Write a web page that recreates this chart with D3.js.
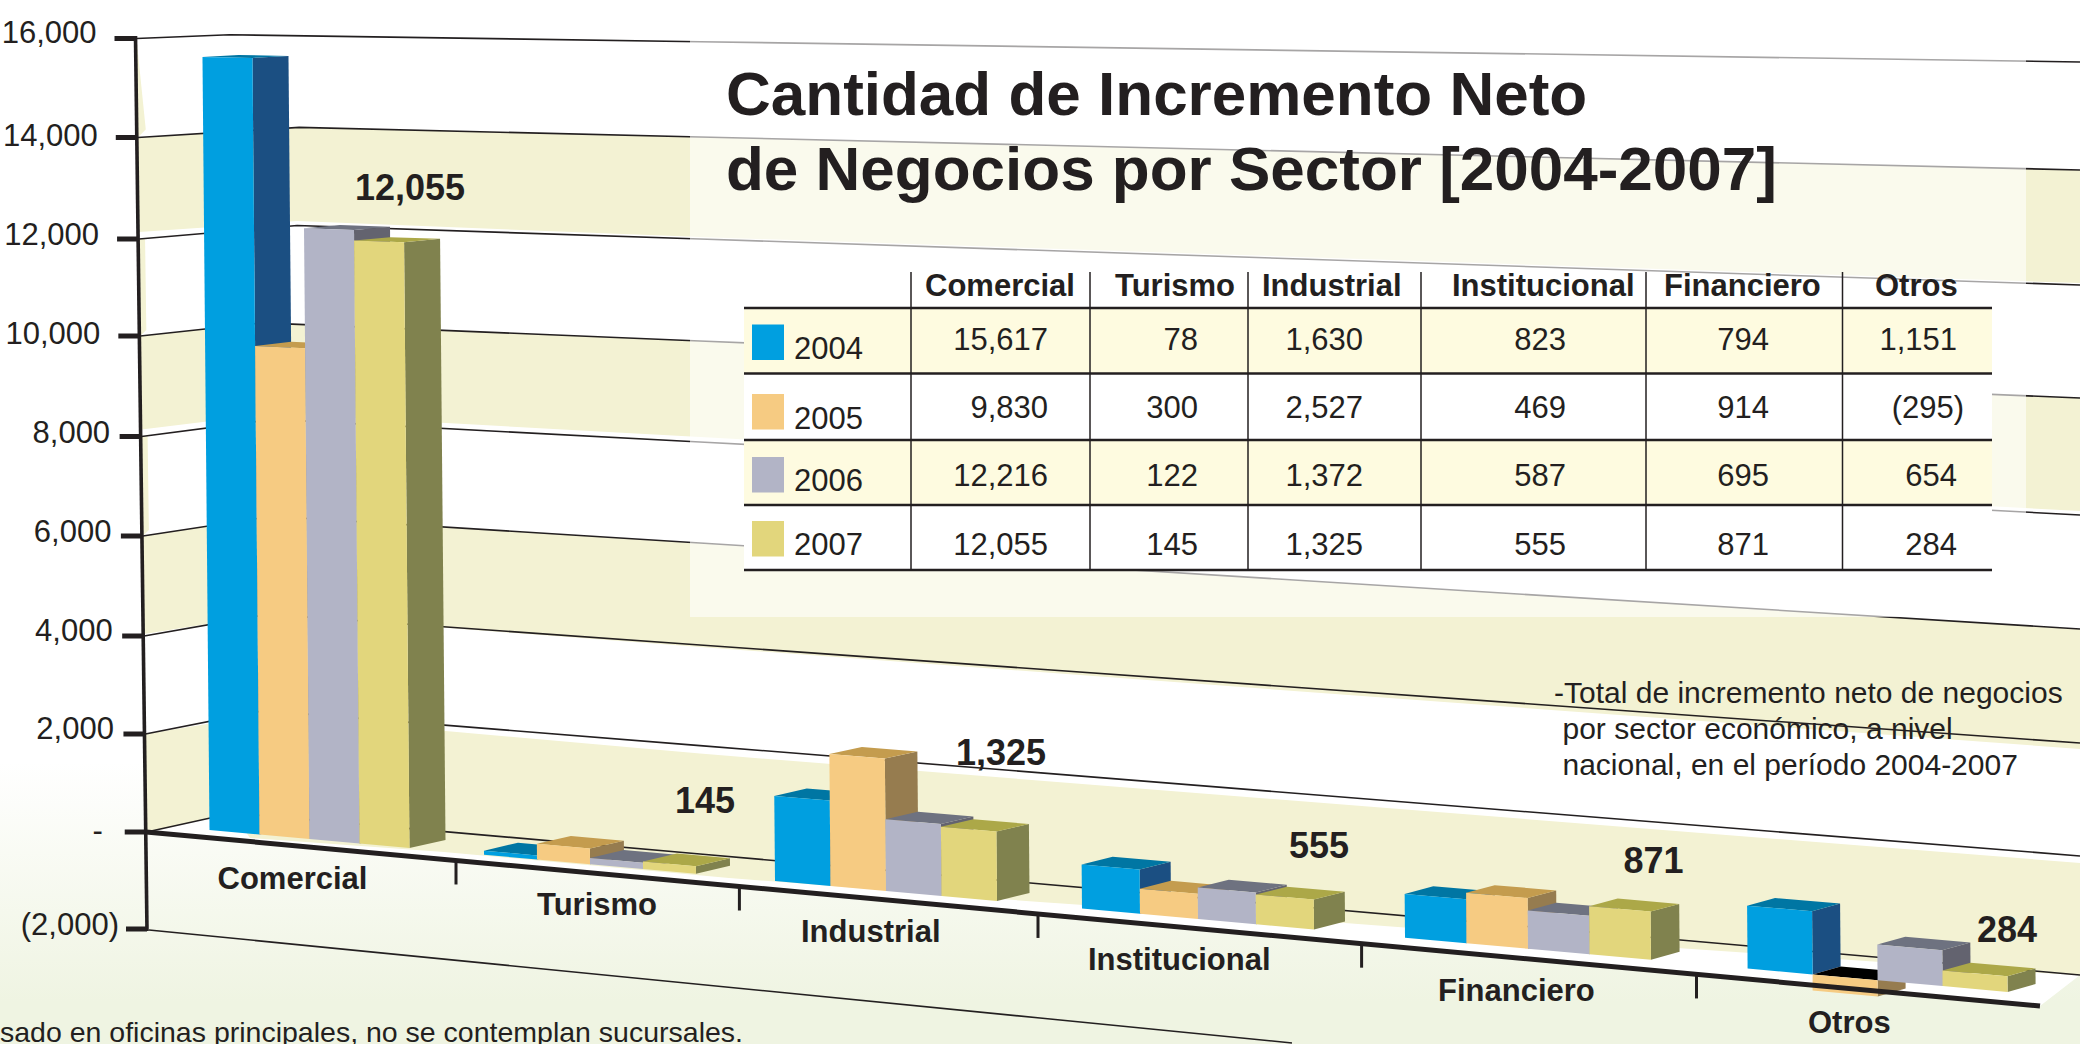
<!DOCTYPE html>
<html><head><meta charset="utf-8">
<script src="https://cdn.jsdelivr.net/npm/d3@7/dist/d3.min.js"></script>
<style>html,body{margin:0;padding:0;background:#fff;overflow:hidden}svg{display:block}text{font-family:"Liberation Sans",Arial,sans-serif;fill:#231f20}</style>
</head><body><svg id="c" width="2080" height="1044" viewBox="0 0 2080 1044"></svg>
<script>
const categories=["Comercial","Turismo","Industrial","Institucional","Financiero","Otros"];
const years=["2004","2005","2006","2007"];
const values2004=[15617,78,1630,823,794,1151];
const values2005=[9830,300,2527,469,914,-295];
const values2006=[12216,122,1372,587,695,654];
const values2007=[12055,145,1325,555,871,284];
const yTicks=[-2000,0,2000,4000,6000,8000,10000,12000,14000,16000];
const yTickLabels=["(2,000)","-","2,000","4,000","6,000","8,000","10,000","12,000","14,000","16,000"];
const titleLines=["Cantidad de Incremento Neto","de Negocios por Sector [2004-2007]"];
const noteLines=["-Total de incremento neto de negocios"," por sector económico, a nivel"," nacional, en el período 2004-2007"];
const footnote="sado en oficinas principales, no se contemplan sucursales.";

const series=[values2004,values2005,values2006,values2007];
const ink="#231f20";
const palette=[
 {front:"#009fe0",side:"#1b4f82",top:"#0076a3"},
 {front:"#f6cb82",side:"#967c4f",top:"#c49c4e"},
 {front:"#b2b4c6",side:"#63636f",top:"#6e7280"},
 {front:"#e2d67c",side:"#80824e",top:"#aca848"}];
const svg=d3.select("#c");
const defs=svg.append("defs");
const grad=defs.append("linearGradient").attr("id","bg").attr("x1",0).attr("x2",0).attr("y1",0).attr("y2",1);
grad.append("stop").attr("offset","0").attr("stop-color","#fff");
grad.append("stop").attr("offset","0.73").attr("stop-color","#fff");
grad.append("stop").attr("offset","0.96").attr("stop-color","#eff4e2");
svg.append("rect").attr("width",2080).attr("height",1044).attr("fill","url(#bg)");

// perspective wall built from scales over the value axis
const yAxis=d3.scaleLinear().domain(yTicks).range([929,832,734,636,536,436.5,336,239,137.5,38.5]);
const yLabel=d3.scaleLinear().domain(yTicks).range([935,841,739,640.7,541.7,442.7,344,245,146,43]);
const xAxis=d3.scaleLinear().domain([-2000,16000]).range([147,135.5]);
const y700=d3.scaleLinear().domain([0,2000,4000,6000,8000,10000,12000,14000,16000]).range([854,745.6,645,543,442,341,239,137,41.7]);
const yRight=d3.scaleLinear().domain([-2000,0,2000,4000,6000,8000,10000,12000,14000,16000]).range([1115,975,856,743,629,515,398,285,170,62]);
const leftSlope=d3.scaleLinear().domain([0,16000]).range([.22,.04]);
const ROff=2080, MOff=700;
function wallPts(v,off=[0,0,0]){
 const ax=xAxis(v)+1, y0=yAxis(v), s=leftSlope(v), ym=y700(v), yr=yRight(v), m=(yr-ym)/(ROff-MOff);
 const cx=(y0+s*ax-ym+m*MOff)/(m+s), cy=ym+m*(cx-MOff);
 return [[ax,y0+off[0]],[cx,cy+(off[0]+off[1])/2],[MOff,ym+off[1]],[ROff,yr+off[2]]];
}
const pathLine=d3.line();
const poly=p=>pathLine(p)+"Z";
const topEdge=wallPts(16000), zeroEdge=wallPts(0);
svg.append("path").attr("d",poly([...topEdge,[2080,975],[2040,1006],[146,832]])).attr("fill","#fff");
const cream="#f3f2d3";
const bands=[
 {t:14000,b:12000,to:[0,0,0],bo:[-7,-2,-2]},
 {t:10000,b:8000,to:[0,0,0],bo:[-7,-5,-4]},
 {t:6000,b:4000,to:[0,0,0],bo:[-2,2,6]}];
bands.forEach(b=>{
 svg.append("path").attr("d",poly([...wallPts(b.t,b.to),...wallPts(b.b,b.bo).reverse()])).attr("fill",cream);
});
const floorEdge=[[2080,975],[2041,973],[1677,948],[1345,923],[1040,902],[729,878],[444,852],[250,838],zeroEdge[1],zeroEdge[0]];
svg.append("path").attr("d",poly([...wallPts(2000,[0,8,7]),...floorEdge])).attr("fill",cream);
[[16000,14000],[12000,10000],[8000,6000]].forEach(([a,b],i)=>{
 const xa=xAxis(a)+1,xb=xAxis(b)+1;
 const p=i==0?[[xa,yAxis(a)],[xb+8,yAxis(b)-8],[xb,yAxis(b)]]:[[xa,yAxis(a)],[xa+6,yAxis(a)],[xb+6,yAxis(b)-6],[xb,yAxis(b)]];
 svg.append("path").attr("d",poly(p)).attr("fill",cream);
});
yTicks.forEach(v=>{
 if(v===-2000)return;
 svg.append("path").attr("d",pathLine(wallPts(v))).attr("fill","none").attr("stroke",ink).attr("stroke-width",1.6);
});
svg.append("path").attr("d",pathLine([[149,930],[1040,1018],[1292,1043]])).attr("fill","none").attr("stroke",ink).attr("stroke-width",1.6);
svg.append("rect").attr("x",690).attr("y",0).attr("width",1336).attr("height",617).attr("fill","#fff").attr("opacity",.6);

titleLines.forEach((t,i)=>svg.append("text").attr("x",726).attr("y",[115,190][i]).attr("font-size",62).attr("font-weight","bold").text(t));

const fmt=v=>v<0?`(${d3.format(",")(-v)})`:d3.format(",")(v);
const rowEdges=d3.scaleOrdinal().domain(d3.range(5)).range([308,373.5,440,505,570]);
const colRight=[1048,1198,1363,1566,1769,1957];
const headLeft=[925,1115,1262,1452,1664,1875];
const colLines=[911,1090,1248,1421,1646,1842.5];
const tx0=744,tx1=1992;
years.forEach((y,r)=>svg.append("rect").attr("x",tx0).attr("y",rowEdges(r)).attr("width",tx1-tx0).attr("height",rowEdges(r+1)-rowEdges(r)).attr("fill",r%2?"#fff":"#fefbe0"));
d3.range(5).forEach(r=>svg.append("line").attr("x1",tx0).attr("x2",tx1).attr("y1",rowEdges(r)).attr("y2",rowEdges(r)).attr("stroke",ink).attr("stroke-width",2.4));
colLines.forEach(x=>svg.append("line").attr("x1",x).attr("x2",x).attr("y1",272).attr("y2",570).attr("stroke",ink).attr("stroke-width",1.5));
categories.forEach((c,i)=>svg.append("text").attr("x",headLeft[i]).attr("y",296).attr("font-size",31).attr("font-weight","bold").text(c));
const swY=[324.5,394,457,521], yearBase=[359,428.6,491,555], valBase=[350,418,486,555];
years.forEach((y,r)=>{
 svg.append("rect").attr("x",752).attr("y",swY[r]).attr("width",32).attr("height",35.5).attr("fill",palette[r].front);
 svg.append("text").attr("x",794).attr("y",yearBase[r]).attr("font-size",31).text(y);
 categories.forEach((c,i)=>svg.append("text").attr("x",colRight[i]+(r==1&&i==5?7:0)).attr("y",valBase[r]).attr("text-anchor","end").attr("font-size",31).text(fmt(series[r][i])));
});
noteLines.forEach((t,i)=>svg.append("text").attr("x",i?1562.5:1554).attr("y",[703,739,775][i]).attr("font-size",30).text(t.trim()));

const idx=d3.range(6);
const xStart=d3.scaleOrdinal().domain(idx).range([209.5,484,775,1082,1405,1747.6]);
const barW=d3.scaleOrdinal().domain(idx).range([50,53,55.5,58,61.5,65]);
const depthX=d3.scaleOrdinal().domain(idx).range([36,34,32.5,31,28.6,28]);
const unit=d3.scaleOrdinal().domain(idx).range([1,1.05,1.05,1.08,1.11,1.1]);
const barH=d3.scaleLinear().domain([0,9830,12055,15617]).range([0,488.5,603,773]);
const base=d3.scaleLinear().domain([209.5,2008]).range([830,992]);
const depthY=d3.scaleLinear().domain([0,15617]).range([8,2]);
const topSlope=d3.scaleLinear().domain([0,16000]).range([.09,.0164]);
const lean=d3.scaleLinear().domain([0,16000]).range([0,7.2]);
idx.forEach(i=>{
 series.forEach((vals,j)=>{
  const v=vals[i],w=barW(i),xl=xStart(i)+j*w,xr=xl+w,dx=depthX(i);
  const col=palette[j];
  const bl=[xl,base(xl)],br=[xr,base(xr)];
  let tl,tr,fbl,fbr;
  if(v>=0){
   const h=barH(v)*unit(i),ln=lean(v);
   tl=[xl-ln,bl[1]-h];tr=[xr-ln,tl[1]+topSlope(v)*w];fbl=bl;fbr=br;
  }else{
   const h=barH(-v)*unit(i);
   tl=bl;tr=br;fbl=[xl,bl[1]+h];fbr=[xr,br[1]+h];
  }
  const dy=depthY(Math.max(v,0));
  svg.append("path").attr("d",poly([tr,[tr[0]+dx,tr[1]-dy],[fbr[0]+dx,fbr[1]-8],fbr])).attr("fill",col.side);
  svg.append("path").attr("d",poly([tl,tr,[tr[0]+dx,tr[1]-dy],[tl[0]+dx,tl[1]-dy]])).attr("fill",v<0?"#000":col.top);
  svg.append("path").attr("d",poly([tl,tr,fbr,fbl])).attr("fill",col.front);
 });
});

svg.append("line").attr("x1",xAxis(16000)).attr("y1",36).attr("x2",xAxis(-2000)).attr("y2",931).attr("stroke",ink).attr("stroke-width",3.6);
const labelRight=v=>v>=10000?19:v==0?23:v<0?8:10.5;
yTicks.forEach((v,i)=>{
 const x=xAxis(v),y=yAxis(v);
 svg.append("line").attr("x1",x-21).attr("x2",x).attr("y1",y).attr("y2",y).attr("stroke",ink).attr("stroke-width",5);
 svg.append("text").attr("x",x-20-labelRight(v)).attr("y",yLabel(v)).attr("text-anchor","end").attr("font-size",31).text(yTickLabels[i]);
});
svg.append("line").attr("x1",146).attr("y1",832).attr("x2",2040).attr("y2",1006).attr("stroke",ink).attr("stroke-width",5);
const xTickAt=[456,739.4,1038,1361.6,1696.5];
const baseLine=d3.scaleLinear().domain([146,2040]).range([832,1006]);
xTickAt.forEach(x=>svg.append("line").attr("x1",x).attr("x2",x).attr("y1",baseLine(x)).attr("y2",baseLine(x)+24).attr("stroke",ink).attr("stroke-width",3));
const catX=[217.5,537,801,1088,1438,1808], catBase=[889,915,942,970,1001,1033];
categories.forEach((c,i)=>svg.append("text").attr("x",catX[i]).attr("y",catBase[i]).attr("font-size",31).attr("font-weight","bold").text(c));
const valX=[355,675,956,1289,1623.5,1977], valY=[200,813,765,858,873,942];
values2007.forEach((v,i)=>svg.append("text").attr("x",valX[i]).attr("y",valY[i]).attr("font-size",36).attr("font-weight","bold").text(fmt(v)));
svg.append("text").attr("x",0).attr("y",1042).attr("font-size",28.5).text(footnote);
</script></body></html>
